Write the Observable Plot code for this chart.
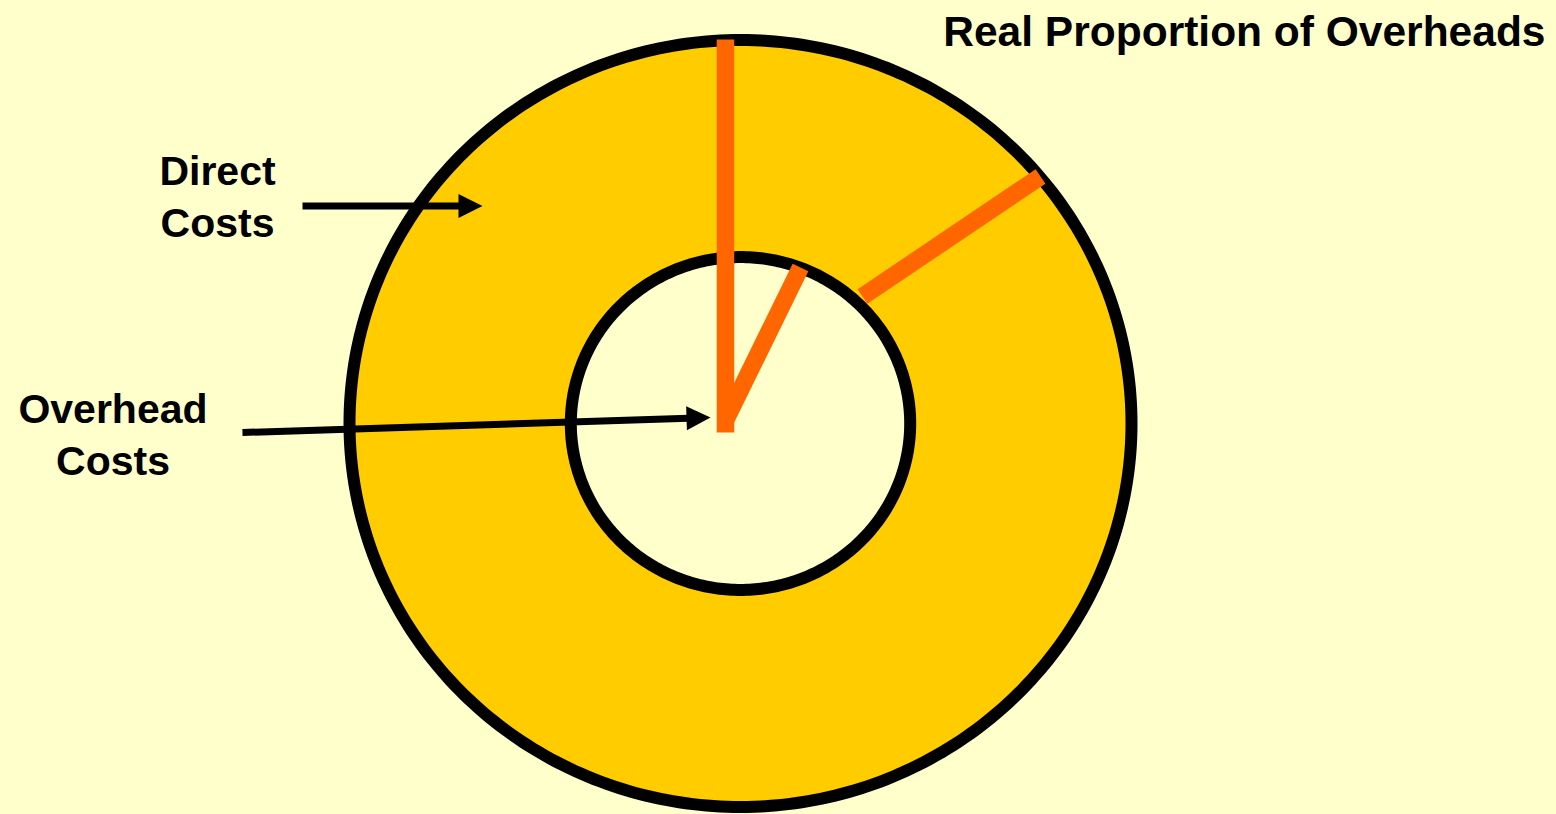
<!DOCTYPE html>
<html>
<head>
<meta charset="utf-8">
<script src="https://cdn.jsdelivr.net/npm/d3@7"></script>
<script src="https://cdn.jsdelivr.net/npm/@observablehq/plot@0.6"></script>
<style>
  html, body { margin: 0; padding: 0; background: #FFFFCC; }
  #chart svg { display: block; }
</style>
</head>
<body>
<div id="chart"></div>
<script>
// ---- data (diagram units: outer ring radius = 1, centre = 0,0) ----
const title = "Real Proportion of Overheads";
const ringNames = ["Direct Costs", "Overhead Costs"];
const ringRadius = [1, 0.434];
const labelLines = [["Direct", "Costs"], ["Overhead", "Costs"]];
// orange marker segments: start and end points
const markerFrom = [[-0.0384, 1.0013], [-0.0384, 0.0078], [0.312, 0.3312]];
const markerTo   = [[-0.0384, -0.0235], [0.1535, 0.4068], [0.7673, 0.6441]];
// label pointer arrows: tail and tip
const arrowFrom = [[-1.1202, 0.5671], [-1.2737, -0.0235]];
const arrowTo   = [[-0.6598, 0.5671], [-0.0767, 0.0156]];

// ---- layout ----
const W = 1556, H = 814;
const xDomain = [-740 / 391, 816 / 391];
const yDomain = [-391 / 383.5, 423 / 383.5];
const kx = W / (xDomain[1] - xDomain[0]);
const ky = H / (yDomain[1] - yDomain[0]);
const labelAnchor = [[-1.3376, 0.598], [-1.6049, -0.022]];
const titleAnchor = [2.0588, 1.019];
const FONT = "Liberation Sans, Arial, Helvetica, sans-serif";
const colors = {bg: "#FFFFCC", ring: "#FFCC00", hole: "#FFFFCC", marker: "#FF6600", ink: "#000000"};
const ringFill = [colors.ring, colors.hole];

const rings = ringNames.map((name, i) => ({name, r: ringRadius[i], fill: ringFill[i]}));
const ringPts = rings.map(rg => d3.range(0, 361).map(a => {
  const t = a * Math.PI / 180;
  return {ring: rg.name, x: rg.r * Math.cos(t), y: rg.r * Math.sin(t)};
}));

const markers = markerFrom.map((p, i) => ({x1: p[0], y1: p[1], x2: markerTo[i][0], y2: markerTo[i][1]}));

const HEAD_LEN = 24, HEAD_HALF = 12;
const arrows = arrowFrom.map((p, i) => {
  const q = arrowTo[i];
  const dxp = (q[0] - p[0]) * kx, dyp = -(q[1] - p[1]) * ky;
  const len = Math.hypot(dxp, dyp);
  const ux = dxp / len, uy = dyp / len;
  const back = HEAD_LEN - 2;
  return {
    x1: p[0], y1: p[1],
    x2: q[0] - ux * back / kx, y2: q[1] + uy * back / ky,
    tx: q[0], ty: q[1], angle: Math.atan2(dyp, dxp)
  };
});
function headSymbol(angle) {
  const c = Math.cos(angle), s = Math.sin(angle);
  const rot = (x, y) => [x * c - y * s, x * s + y * c];
  return {
    draw(ctx) {
      const a = rot(0, 0), b = rot(-HEAD_LEN, -HEAD_HALF), d = rot(-HEAD_LEN, HEAD_HALF);
      ctx.moveTo(a[0], a[1]); ctx.lineTo(b[0], b[1]); ctx.lineTo(d[0], d[1]); ctx.closePath();
    }
  };
}

const labels = labelLines.map((lines, i) => ({text: lines.join("\n"), x: labelAnchor[i][0], y: labelAnchor[i][1]}));

const marks = [];
rings.forEach((rg, i) => {
  marks.push(Plot.line(ringPts[i], {x: "x", y: "y", fill: rg.fill, stroke: colors.ink, strokeWidth: 12, strokeLinejoin: "round"}));
});
marks.push(Plot.link(arrows, {x1: "x1", y1: "y1", x2: "x2", y2: "y2", stroke: colors.ink, strokeWidth: 7, strokeLinecap: "butt"}));
arrows.forEach(a => {
  marks.push(Plot.dot([a], {x: "tx", y: "ty", r: 12, symbol: headSymbol(a.angle), fill: colors.ink, stroke: "none"}));
});
marks.push(Plot.link(markers, {x1: "x1", y1: "y1", x2: "x2", y2: "y2", stroke: colors.marker, strokeWidth: 17.5, strokeLinecap: "butt"}));
marks.push(Plot.text(labels, {x: "x", y: "y", text: "text", fill: colors.ink, fontFamily: FONT, fontWeight: "bold", fontSize: 41, lineHeight: 1.27, textAnchor: "middle", lineAnchor: "middle"}));
marks.push(Plot.text([title], {x: () => titleAnchor[0], y: () => titleAnchor[1], text: d => d, fill: colors.ink, fontFamily: FONT, fontWeight: "bold", fontSize: 42.5, textAnchor: "end", lineAnchor: "middle"}));

const chart = Plot.plot({
  width: W, height: H, margin: 0,
  x: {domain: xDomain, axis: null},
  y: {domain: yDomain, axis: null},
  style: {background: colors.bg, overflow: "visible"},
  marks
});
document.getElementById("chart").appendChild(chart);
</script>
</body>
</html>
